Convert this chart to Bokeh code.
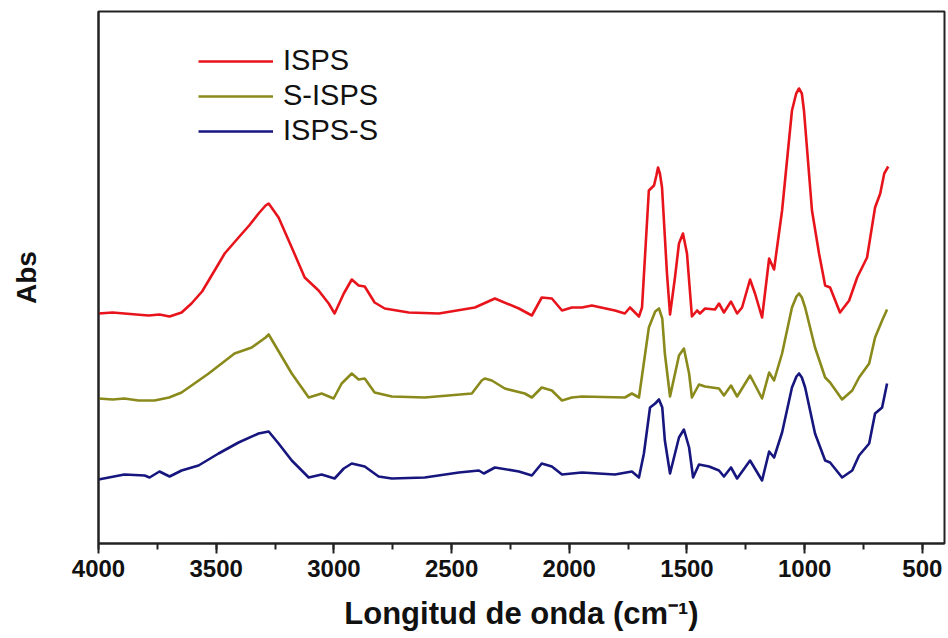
from bokeh.plotting import figure
from bokeh.models import Range1d, SingleIntervalTicker, FixedTicker
from bokeh.embed import file_html
from bokeh.resources import INLINE

# ISPS (red)
isps_wn = [4000, 3940, 3890, 3840, 3787, 3741, 3698, 3647, 3605, 3560, 3532, 3464, 3405, 3360, 3320, 3290, 3277,
           3235, 3179, 3124, 3065, 3022, 2997, 2958, 2924, 2895, 2869, 2827, 2784, 2682, 2554, 2401,
           2316, 2214, 2159, 2117, 2074, 2031, 1989, 1946, 1904, 1806, 1764, 1742, 1704, 1691, 1662,
           1640, 1630, 1623, 1615, 1606, 1585, 1572, 1551, 1534, 1517, 1500, 1479, 1457, 1445, 1423,
           1381, 1364, 1343, 1313, 1287, 1266, 1232, 1211, 1181, 1151, 1130, 1096, 1070, 1054, 1036,
           1024, 1012, 1003, 969, 939, 913, 892, 850, 811, 777, 735, 701, 679, 662, 645]
isps_abs = [2.30, 2.31, 2.30, 2.29, 2.28, 2.29, 2.27, 2.31, 2.40, 2.52, 2.63, 2.90, 3.06, 3.18, 3.30, 3.38, 3.40,
            3.26, 2.96, 2.66, 2.53, 2.40, 2.30, 2.50, 2.64, 2.58, 2.57, 2.41, 2.35, 2.31, 2.30, 2.36,
            2.45, 2.35, 2.28, 2.46, 2.45, 2.33, 2.36, 2.36, 2.38, 2.33, 2.30, 2.36, 2.27, 2.36, 3.53,
            3.58, 3.68, 3.76, 3.70, 3.56, 2.70, 2.29, 2.66, 3.00, 3.10, 2.90, 2.27, 2.33, 2.30, 2.35,
            2.34, 2.40, 2.31, 2.42, 2.30, 2.36, 2.64, 2.50, 2.26, 2.85, 2.74, 3.33, 3.95, 4.33, 4.50,
            4.55, 4.50, 4.33, 3.33, 2.90, 2.58, 2.56, 2.31, 2.43, 2.66, 2.86, 3.36, 3.50, 3.70, 3.77]

# S-ISPS (olive)
sisps_wn = [4000, 3940, 3890, 3830, 3762, 3700, 3647, 3532, 3422, 3349, 3290, 3277, 3179, 3107, 3052,
            3001, 2967, 2924, 2895, 2869, 2827, 2754, 2614, 2414, 2372, 2359, 2329, 2274, 2189, 2159,
            2117, 2074, 2031, 1989, 1946, 1764, 1734, 1704, 1662, 1635, 1619, 1605, 1594, 1572, 1534,
            1513, 1491, 1479, 1449, 1423, 1364, 1343, 1313, 1287, 1232, 1181, 1151, 1130, 1096, 1054,
            1035, 1024, 1012, 998, 956, 913, 892, 841, 798, 769, 726, 701, 671, 650]
sisps_abs = [1.45, 1.44, 1.45, 1.43, 1.43, 1.46, 1.51, 1.70, 1.90, 1.96, 2.06, 2.09, 1.70, 1.46, 1.50,
             1.45, 1.60, 1.70, 1.64, 1.65, 1.51, 1.47, 1.46, 1.50, 1.63, 1.65, 1.63, 1.55, 1.50, 1.46,
             1.56, 1.53, 1.43, 1.46, 1.47, 1.46, 1.50, 1.46, 2.16, 2.32, 2.35, 2.25, 1.90, 1.47, 1.88,
             1.95, 1.70, 1.46, 1.59, 1.57, 1.55, 1.48, 1.58, 1.47, 1.68, 1.45, 1.71, 1.63, 1.90, 2.36,
             2.47, 2.50, 2.46, 2.36, 1.96, 1.66, 1.61, 1.44, 1.53, 1.66, 1.80, 2.06, 2.23, 2.34]

# ISPS-S (navy)
ispss_wn = [4000, 3890, 3804, 3783, 3741, 3698, 3647, 3575, 3490, 3405, 3320, 3277, 3235, 3179, 3107,
            3052, 2997, 2958, 2924, 2869, 2810, 2754, 2614, 2469, 2384, 2363, 2316, 2214, 2159, 2117,
            2074, 2031, 1989, 1946, 1806, 1734, 1704, 1683, 1657, 1635, 1619, 1605, 1594, 1572, 1534,
            1513, 1491, 1474, 1449, 1406, 1364, 1343, 1313, 1287, 1232, 1181, 1151, 1130, 1096, 1054,
            1035, 1024, 1012, 998, 956, 913, 892, 841, 798, 769, 726, 701, 671, 650]
ispss_abs = [0.64, 0.69, 0.68, 0.66, 0.72, 0.67, 0.73, 0.78, 0.90, 1.01, 1.10, 1.12, 1.00, 0.83, 0.66,
             0.69, 0.65, 0.75, 0.80, 0.77, 0.67, 0.65, 0.66, 0.71, 0.73, 0.70, 0.76, 0.72, 0.68, 0.80,
             0.77, 0.69, 0.70, 0.71, 0.69, 0.72, 0.66, 0.90, 1.36, 1.40, 1.44, 1.36, 1.03, 0.70, 1.06,
             1.14, 0.96, 0.66, 0.79, 0.77, 0.73, 0.67, 0.76, 0.65, 0.83, 0.63, 0.92, 0.86, 1.11, 1.56,
             1.67, 1.70, 1.66, 1.56, 1.10, 0.83, 0.81, 0.66, 0.73, 0.88, 1.00, 1.30, 1.36, 1.60]

series_names = ["ISPS", "S-ISPS", "ISPS-S"]
series_colors = ["#e8141c", "#8a8a1c", "#16167e"]

FONT = "Liberation Sans"

p = figure(width=948, height=638, output_backend="svg", toolbar_location=None,
           x_range=Range1d(4000, 406), y_range=Range1d(0, 5.32),
           min_border_left=98, min_border_right=4, min_border_top=11, min_border_bottom=95)
p.background_fill_color = "white"
p.border_fill_color = "white"
p.xgrid.visible = False
p.ygrid.visible = False
p.outline_line_color = "#222222"
p.outline_line_width = 2

for wn, ab, name, col in zip([isps_wn, sisps_wn, ispss_wn], [isps_abs, sisps_abs, ispss_abs],
                             series_names, series_colors):
    p.line(wn, ab, line_color=col, line_width=2.6, legend_label=name, line_join="round")

xa = p.xaxis[0]
xa.ticker = SingleIntervalTicker(interval=500, num_minor_ticks=2)
xa.axis_label = "Longitud de onda (cm\u207b\u00b9)"
xa.axis_label_text_font = FONT
xa.axis_label_text_font_style = "bold"
xa.axis_label_text_font_size = "31px"
xa.axis_label_text_color = "#111111"
xa.axis_label_standoff = 16
xa.major_label_text_font = FONT
xa.major_label_text_font_style = "bold"
xa.major_label_text_font_size = "24px"
xa.major_label_text_color = "#111111"
xa.major_label_standoff = 6
xa.major_tick_in = 0
xa.major_tick_out = 10
xa.minor_tick_in = 0
xa.minor_tick_out = 6
xa.axis_line_width = 2
xa.major_tick_line_width = 2
xa.minor_tick_line_width = 2
xa.axis_line_color = "#222222"
xa.major_tick_line_color = "#222222"
xa.minor_tick_line_color = "#222222"

ya = p.yaxis[0]
ya.ticker = FixedTicker(ticks=[])
ya.axis_label = "Abs"
ya.axis_label_text_font = FONT
ya.axis_label_text_font_style = "bold"
ya.axis_label_text_font_size = "28px"
ya.axis_label_text_color = "#111111"
ya.axis_label_standoff = 57
ya.major_tick_out = 0
ya.major_tick_in = 0
ya.minor_tick_out = 0
ya.minor_tick_in = 0
ya.major_label_standoff = 0
ya.axis_line_width = 2
ya.axis_line_color = "#222222"

lg = p.legend[0]
lg.location = (100, 396)
lg.border_line_color = None
lg.background_fill_alpha = 0
lg.padding = 0
lg.margin = 0
lg.spacing = 2
lg.glyph_width = 75
lg.glyph_height = 28
lg.label_standoff = 10
lg.label_text_font = FONT
lg.label_text_font_size = "29px"
lg.label_text_color = "#111111"
lg.label_height = 28

open("out.html", "w").write(file_html(p, INLINE))
